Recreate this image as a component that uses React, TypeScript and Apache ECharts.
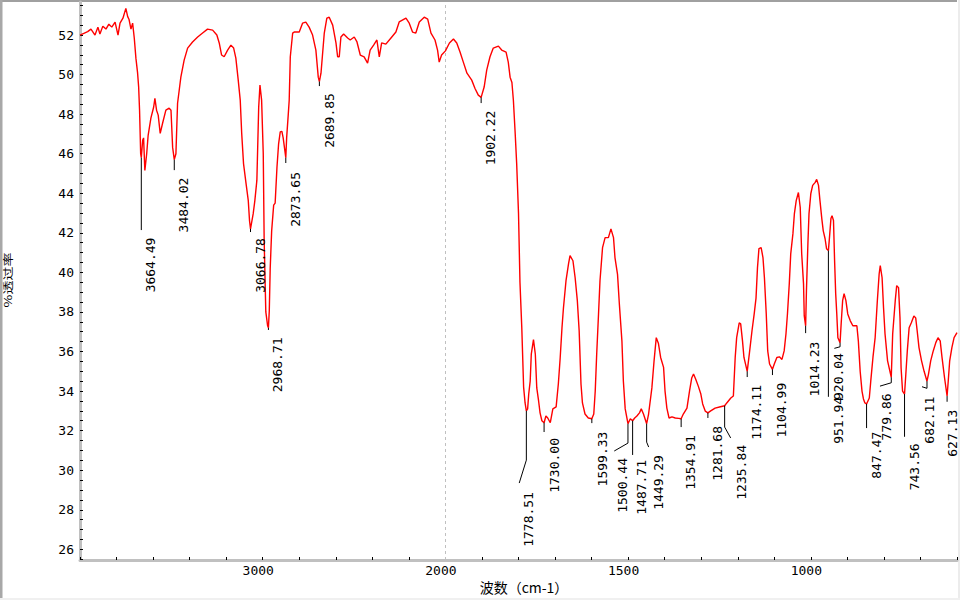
import React, { useEffect, useRef } from "react";
import * as echarts from "echarts";

// ---- Spectrum (wavenumber cm-1, %transmittance) ----
const spectrumHigh: [number, number][] = [
  [4000, 52.0], [3958, 52.17], [3940, 52.3], [3918, 52.0], [3902, 52.4], [3891, 52.05],
  [3875, 52.45], [3858, 52.3], [3842, 52.55], [3826, 52.4], [3808, 52.65], [3792, 52.0],
  [3781, 52.6], [3765, 52.85], [3749, 53.35], [3739, 52.93], [3732, 52.8], [3721, 52.3],
  [3712, 52.6], [3703, 51.85], [3694, 50.83], [3685, 50.1], [3679, 49.37], [3674, 48.2],
  [3668, 46.0], [3664.49, 45.8], [3657, 46.68], [3652, 46.8], [3645, 45.15], [3635, 46.0],
  [3627, 46.93], [3612, 47.8], [3597, 48.35], [3590, 48.8], [3581, 48.2], [3572, 47.95],
  [3561, 47.03], [3548, 47.54], [3530, 48.2], [3512, 48.3], [3502, 48.2], [3493, 46.32],
  [3484.02, 45.7], [3475, 46.0], [3466, 48.55], [3457, 49.21], [3448, 49.87], [3430, 50.73],
  [3411, 51.34], [3384, 51.65], [3356, 51.9], [3329, 52.1], [3302, 52.3], [3274, 52.25],
  [3251, 52.0], [3238, 51.6], [3225, 50.99], [3211, 50.9], [3192, 51.24], [3174, 51.49],
  [3159, 51.34], [3147, 50.83], [3134, 49.72], [3123, 48.71], [3115, 47.03], [3105, 45.5],
  [3092, 44.55], [3079, 43.63], [3072, 42.6], [3066.78, 42.2], [3052, 42.97], [3043, 43.63],
  [3032, 44.65], [3022, 48.35], [3015, 49.47], [3006, 48.71], [2997, 46.0], [2992, 41.6],
  [2983, 38.0], [2973, 37.3], [2968.71, 37.2], [2964, 38.06], [2959, 40.2], [2951, 42.1],
  [2940, 43.4], [2932, 43.5], [2922, 45.3], [2913, 46.5], [2904, 47.1], [2895, 47.13],
  [2888, 46.8], [2873.65, 45.8], [2869, 46.8], [2860, 48.0], [2855, 48.7], [2849, 50.9],
  [2836, 52.1], [2828, 52.15], [2800, 52.15], [2782, 52.6], [2764, 52.65], [2746, 52.4],
  [2727, 52.0], [2709, 51.24], [2696, 49.87], [2689.85, 49.65], [2681, 50.07], [2663, 52.1],
  [2649, 52.85], [2636, 52.9], [2617, 52.5], [2599, 51.6], [2590, 50.9], [2581, 50.9],
  [2572, 51.9], [2557, 52.05], [2535, 51.85], [2521, 51.75], [2499, 51.9], [2484, 51.65],
  [2466, 50.99], [2445, 50.9], [2426, 50.58], [2412, 51.24], [2393, 51.49], [2375, 51.75],
  [2362, 50.9], [2349, 51.6], [2326, 51.54], [2298, 51.85], [2271, 52.15], [2253, 52.66],
  [2216, 52.85], [2198, 52.6], [2180, 52.15], [2162, 52.1], [2143, 52.66], [2116, 52.9],
  [2097, 52.8], [2079, 52.1], [2057, 51.75], [2043, 51.24], [2034, 50.63], [2021, 50.99],
  [2000, 51.2],
];

const spectrumLow: [number, number][] = [
  [1989, 51.6], [1978, 51.8], [1969, 51.6], [1960, 51.14], [1951, 50.63], [1941, 50.07],
  [1928, 49.72], [1919, 49.3], [1910, 48.96], [1902.22, 48.85], [1894, 49.37], [1887, 50.23],
  [1878, 50.9], [1869, 51.34], [1855, 51.44], [1846, 51.24], [1834, 51.14], [1828, 50.63],
  [1823, 49.87], [1818, 49.6], [1814, 48.7], [1809, 47.0], [1805, 45.5], [1800, 43.0],
  [1796, 39.5], [1791, 37.2], [1786, 34.2], [1782, 33.4], [1778.51, 33.0], [1775, 33.1],
  [1772, 33.85], [1768, 34.5], [1765, 35.87], [1759, 36.6], [1754, 35.87], [1750, 34.16],
  [1745, 33.5], [1741, 32.9], [1736, 32.5], [1730, 32.4], [1725, 32.74], [1720, 32.64],
  [1713, 32.4], [1706, 33.1], [1697, 33.2], [1691, 34.36], [1686, 35.66], [1681, 37.2],
  [1677, 38.2], [1670, 39.58], [1663, 40.44], [1659, 40.85], [1651, 40.59], [1645, 39.73],
  [1639, 38.57], [1634, 37.05], [1629, 34.36], [1625, 33.4], [1618, 32.84], [1609, 32.64],
  [1599.33, 32.6], [1594, 32.84], [1590, 34.0], [1586, 35.87], [1581, 37.9], [1577, 39.58],
  [1570, 41.25], [1563, 41.76], [1554, 41.76], [1547, 42.2], [1540, 41.76], [1536, 40.75],
  [1529, 39.9], [1524, 38.4], [1517, 36.54], [1513, 34.5], [1508, 33.1], [1500.44, 32.35],
  [1494, 32.6], [1487.71, 32.5], [1482, 32.64], [1476, 32.74], [1469, 32.9], [1464, 33.1],
  [1458, 32.84], [1449.29, 32.35], [1444, 32.84], [1435, 34.16], [1429, 35.53], [1423, 36.7],
  [1417, 36.4], [1411, 35.7], [1403, 35.2], [1399, 34.0], [1394, 33.14], [1388, 32.64],
  [1380, 32.7], [1371, 32.64], [1362, 32.62], [1354.91, 32.6], [1349, 32.84], [1339, 33.14],
  [1332, 34.0], [1326, 34.66], [1321, 34.86], [1315, 34.6], [1308, 34.25], [1301, 33.85],
  [1296, 33.35], [1289, 32.99], [1281.68, 32.9], [1274, 33.0], [1262, 33.14], [1253, 33.18],
  [1235.84, 33.26], [1230, 33.4], [1219, 33.65], [1212, 33.75], [1207, 35.7], [1203, 36.7],
  [1196, 37.45], [1192, 37.4], [1187, 36.54], [1183, 35.7], [1174.11, 35.0], [1168, 35.93],
  [1161, 37.05], [1155, 37.9], [1150, 38.7], [1146, 40.24], [1142, 41.2], [1136, 41.25],
  [1131, 40.75], [1127, 39.73], [1122, 37.9], [1118, 36.03], [1113, 35.37], [1104.99, 35.1],
  [1100, 35.37], [1093, 35.7], [1086, 35.73], [1079, 35.6], [1073, 36.03], [1068, 36.9],
  [1064, 37.9], [1059, 39.42], [1055, 40.94], [1049, 41.96], [1045, 42.97], [1040, 43.63],
  [1034, 44.04], [1029, 43.28], [1025, 40.94], [1020, 39.42], [1018, 37.8], [1014.23, 37.3],
  [1012, 39.08], [1008, 41.46], [1005, 42.97], [1000, 43.99], [995, 44.4], [988, 44.55],
  [984, 44.7], [979, 44.4], [975, 43.63], [970, 42.72], [966, 42.1], [961, 41.7],
  [957, 41.2], [951.94, 41.1], [949, 41.76], [945, 42.72], [942, 42.87], [938, 42.62],
  [935, 40.6], [932, 38.93], [929, 37.9], [926, 36.7], [920.04, 36.45], [917, 37.4],
  [913, 38.57], [909, 38.93], [904, 38.57], [899, 37.9], [892, 37.55], [885, 37.3],
  [874, 37.3], [870, 36.54], [865, 35.0], [860, 34.0], [856, 33.6], [852, 33.4],
  [847.47, 33.35], [840, 33.65], [836, 34.5], [830, 35.7], [824, 36.7], [818, 38.57],
  [813, 39.93], [810, 40.34], [805, 39.73], [801, 38.2], [797, 36.9], [790, 35.53],
  [779.86, 34.7], [776, 36.9], [769, 38.57], [765, 39.33], [760, 39.23], [756, 37.7],
  [753, 35.17], [749, 34.0], [743.56, 33.85], [740, 34.86], [736, 36.03], [731, 37.2],
  [725, 37.45], [718, 37.8], [713, 37.7], [709, 37.05], [704, 36.2], [697, 35.53],
  [690, 35.0], [682.11, 34.5], [678, 34.86], [672, 35.53], [665, 36.03], [658, 36.45],
  [652, 36.7], [646, 36.54], [641, 35.7], [634, 34.66], [627.13, 33.75], [624, 34.5],
  [620, 35.53], [614, 36.2], [608, 36.7], [600, 36.95],
];

// ---- Peak annotations ----
const peakWavenumbers = [
  3664.49, 3484.02, 3066.78, 2968.71, 2873.65, 2689.85, 1902.22, 1778.51, 1730.0, 1599.33,
  1500.44, 1487.71, 1449.29, 1354.91, 1281.68, 1235.84, 1174.11, 1104.99, 1014.23, 951.94,
  920.04, 847.47, 779.86, 743.56, 682.11, 627.13,
];
const peakTransmittance = [
  45.8, 45.7, 42.2, 37.2, 45.8, 49.65, 48.85, 33.0, 32.4, 32.6,
  32.35, 32.5, 32.35, 32.6, 32.9, 33.26, 35.0, 35.1, 37.3, 41.1,
  36.45, 33.35, 34.7, 33.85, 34.5, 33.75,
];
// leader line end (in %T), optional knee and bent end (wavenumber)
const leaderEndT = [
  42.14, 45.17, 42.04, 37.09, 45.53, 49.42, 48.56, 29.35, 31.93, 32.38,
  30.97, 30.77, 31.17, 32.18, 32.64, 31.63, 34.71, 34.81, 36.93, 33.71,
  36.16, 32.13, 34.25, 31.69, 34.22, 33.46,
];
const leaderKneeT: (number | null)[] = [
  null, null, null, null, null, null, null, 30.51, null, null,
  31.37, null, 31.42, null, null, 32.18, null, null, null, null,
  36.24, null, 34.42, null, 34.14, null,
];
const leaderEndW: (number | null)[] = [
  null, null, null, null, null, null, null, 1798, null, null,
  1538, null, 1443.8, null, null, 1219.4, null, null, null, null,
  935.6, null, 810.8, null, 695.8, null,
];

// ---- Axis ticks ----
const xTickLabels = [3000, 2000, 1500, 1000];
const yTickLabels = [26, 28, 30, 32, 34, 36, 38, 40, 42, 44, 46, 48, 50, 52];

const BREAK = 2000;
const toU = (w: number) => (w >= BREAK ? 4000 - w : BREAK + 2 * (BREAK - w));
const fromU = (u: number) => (u <= BREAK ? 4000 - u : BREAK - (u - BREAK) / 2);

// label text offsets (px) relative to leader end: [dx, dy]
const DEFAULT_OFF: [number, number] = [9.5, 7.5];
const labelOffsets: Record<number, [number, number]> = {
  2: [9.7, 6], 4: [9.7, 9], 5: [10, 7], 7: [9.2, 9], 8: [10.5, 6], 9: [10.5, 8.5],
  10: [8, 7], 11: [9, 5], 12: [10, 8], 13: [9.8, 8], 14: [9.3, 8], 15: [10.4, 7],
  16: [9.2, 8], 17: [9.5, 7.7], 18: [9.2, 8.5], 19: [9.8, 0], 20: [4.2, 4.7],
  21: [9.7, 3.7], 22: [7, 7.3], 23: [9.7, 6.6], 24: [7.6, 10], 25: [5.8, 8],
};

const MONO = '"DejaVu Sans Mono", monospace';
const CJK = '"Noto Sans CJK SC", sans-serif';

export default function App() {
  const ref = useRef<HTMLDivElement>(null);
  useEffect(() => {
    if (!ref.current) return;
    const chart = echarts.init(ref.current, null, { renderer: "svg" });

    const yTicks: number[] = [];
    for (let v = 25.5; v <= 53.5 + 1e-9; v += 0.5) yTicks.push(Math.round(v * 10) / 10);
    const xTicks: number[] = [];
    for (let u = 0; u <= 4800; u += 200) xTicks.push(u);

    const lineData = [...spectrumHigh, ...spectrumLow].map(([w, t]) => [toU(w), t]);

    chart.setOption({
      animation: false,
      backgroundColor: "#ffffff",
      grid: { left: 80, top: 2, right: 3, bottom: 40, containLabel: false, outerBoundsMode: "none" },
      xAxis: {
        type: "value",
        min: 0,
        max: 4800,
        axisLine: { onZero: false, lineStyle: { color: "#c0c0c0", width: 3 } },
        axisTick: { show: true, inside: true, length: 3, lineStyle: { color: "#000", width: 1 }, customValues: xTicks },
        axisLabel: {
          customValues: xTickLabels.map(toU),
          formatter: (v: number) => String(Math.round(fromU(v))),
          color: "#000",
          fontFamily: MONO,
          fontSize: 13,
          margin: 4,
          padding: [0, 9, 0, 0],
        },
        splitLine: { show: false },
      },
      yAxis: {
        type: "value",
        min: 25.46,
        max: 53.67,
        axisLine: { show: true, onZero: false, lineStyle: { color: "#c0c0c0", width: 3 } },
        axisTick: { show: true, inside: true, length: 3, lineStyle: { color: "#000", width: 1 }, customValues: yTicks },
        axisLabel: { customValues: yTickLabels, color: "#000", fontFamily: MONO, fontSize: 13, margin: 6 },
        splitLine: { show: false },
      },
      series: [
        {
          type: "line",
          data: lineData,
          showSymbol: false,
          symbol: "none",
          lineStyle: { color: "#ff0000", width: 1.4 },
          silent: true,
          z: 3,
          markLine: {
            silent: true,
            symbol: ["none", "none"],
            label: { show: false },
            lineStyle: { color: "#c0c0c0", type: [3, 3], width: 1 },
            data: [{ xAxis: toU(2000) }],
            z: 1,
          },
        },
        {
          type: "custom",
          silent: true,
          clip: false,
          z: 4,
          data: peakWavenumbers.map((w, i) => [toU(w), peakTransmittance[i]]),
          encode: { x: 0, y: 1 },
          renderItem: (params: any, api: any) => {
            const i = params.dataIndex;
            const w = peakWavenumbers[i];
            const pts: number[][] = [api.coord([toU(w), peakTransmittance[i]])];
            const knee = leaderKneeT[i];
            if (knee != null) pts.push(api.coord([toU(w), knee]));
            const ew = leaderEndW[i];
            pts.push(api.coord([toU(ew != null ? ew : w), leaderEndT[i]]));
            const end = pts[pts.length - 1];
            const off = labelOffsets[i] || DEFAULT_OFF;
            return {
              type: "group",
              children: [
                {
                  type: "polyline",
                  shape: { points: pts },
                  style: { stroke: "#000", lineWidth: 1, fill: null },
                },
                {
                  type: "text",
                  x: end[0] + off[0],
                  y: end[1] + off[1],
                  rotation: Math.PI / 2,
                  style: {
                    text: w.toFixed(2),
                    align: "right",
                    verticalAlign: "middle",
                    font: `13px ${MONO}`,
                    fill: "#000",
                  },
                },
              ],
            };
          },
        },
      ],
      graphic: [
        { type: "rect", silent: true, shape: { x: 0, y: 0, width: 957, height: 2 }, style: { fill: "#a0a0a0" } },
        { type: "rect", silent: true, shape: { x: 0, y: 0, width: 2.5, height: 598 }, style: { fill: "#a8a8a8" } },
        { type: "rect", silent: true, shape: { x: 958, y: 0, width: 2, height: 600 }, style: { fill: "#ececec" } },
        { type: "rect", silent: true, shape: { x: 0, y: 598, width: 960, height: 2 }, style: { fill: "#f0f0f0" } },
        {
          type: "text",
          silent: true,
          x: 8,
          y: 280,
          rotation: Math.PI / 2,
          scaleY: 0.72,
          style: { text: "%透过率", font: `14px ${CJK}`, align: "center", verticalAlign: "middle", fill: "#000" },
        },
        {
          type: "text",
          silent: true,
          x: 524,
          y: 587,
          style: { text: "波数（cm-1）", font: `14px ${CJK}`, align: "center", verticalAlign: "middle", fill: "#000" },
        },
      ],
    });
    return () => chart.dispose();
  }, []);
  return (
    <div
      ref={ref}
      style={{ position: "fixed", left: 0, top: 0, width: 960, height: 600, background: "#fff" }}
    />
  );
}
